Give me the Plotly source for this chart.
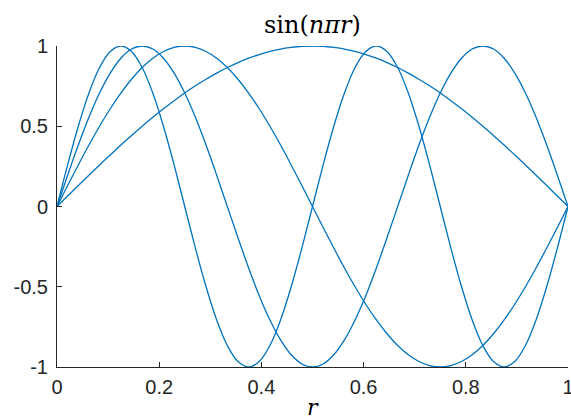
import plotly.graph_objects as go

r_values = [0, .0208, .0417, .0625, .0833, .1042, .125, .1458, .1667, .1875, .2083, .2292,
            .25, .2708, .2917, .3125, .3333, .3542, .375, .3958, .4167, .4375, .4583, .4792,
            .5, .5208, .5417, .5625, .5833, .6042, .625, .6458, .6667, .6875, .7083, .7292,
            .75, .7708, .7917, .8125, .8333, .8542, .875, .8958, .9167, .9375, .9583, .9792, 1]

n1_values = [0, .065, .131, .195, .259, .321, .383, .442, .5, .556, .609, .659,
             .707, .752, .793, .831, .866, .897, .924, .947, .966, .981, .991, .998,
             1, .998, .991, .981, .966, .947, .924, .897, .866, .831, .793, .752,
             .707, .659, .609, .556, .5, .442, .383, .321, .259, .195, .131, .065, 0]
n2_values = [0, .131, .259, .383, .5, .609, .707, .793, .866, .924, .966, .991,
             1, .991, .966, .924, .866, .793, .707, .609, .5, .383, .259, .131,
             0, -.131, -.259, -.383, -.5, -.609, -.707, -.793, -.866, -.924, -.966, -.991,
             -1, -.991, -.966, -.924, -.866, -.793, -.707, -.609, -.5, -.383, -.259, -.131, 0]
n3_values = [0, .195, .383, .556, .707, .831, .924, .981, 1, .981, .924, .831,
             .707, .556, .383, .195, 0, -.195, -.383, -.556, -.707, -.831, -.924, -.981,
             -1, -.981, -.924, -.831, -.707, -.556, -.383, -.195, 0, .195, .383, .556,
             .707, .831, .924, .981, 1, .981, .924, .831, .707, .556, .383, .195, 0]
n4_values = [0, .259, .5, .707, .866, .966, 1, .966, .866, .707, .5, .259,
             0, -.259, -.5, -.707, -.866, -.966, -1, -.966, -.866, -.707, -.5, -.259,
             0, .259, .5, .707, .866, .966, 1, .966, .866, .707, .5, .259,
             0, -.259, -.5, -.707, -.866, -.966, -1, -.966, -.866, -.707, -.5, -.259, 0]

x_ticks = [0, 0.2, 0.4, 0.6, 0.8, 1]
x_tick_labels = ["0", "0.2", "0.4", "0.6", "0.8", "1"]
y_ticks = [-1, -0.5, 0, 0.5, 1]
y_tick_labels = ["-1", "-0.5", "0", "0.5", "1"]

line_color = "#0072BD"
fig = go.Figure()
for ys in [n1_values, n2_values, n3_values, n4_values]:
    fig.add_trace(go.Scatter(x=r_values, y=ys, mode="lines",
                             line=dict(color=line_color, width=1.3, shape="spline"),
                             showlegend=False, hoverinfo="skip"))

axis_font = dict(family="Liberation Sans, Arial, sans-serif", size=20, color="#262626")
fig.update_layout(
    width=571, height=420,
    margin=dict(l=57, r=3, t=46, b=53, autoexpand=False),
    paper_bgcolor="white", plot_bgcolor="white",
    xaxis=dict(range=[0, 1], tickvals=x_ticks, ticktext=x_tick_labels,
               ticks="inside", ticklen=5, tickwidth=1, tickcolor="#262626",
               showline=True, linecolor="#262626", linewidth=1,
               showgrid=False, zeroline=False, tickfont=axis_font,
               ticklabelstandoff=2, ticklabeloverflow="allow", automargin=False),
    yaxis=dict(range=[-1, 1], tickvals=y_ticks, ticktext=y_tick_labels,
               ticks="inside", ticklen=5, tickwidth=1, tickcolor="#262626",
               showline=True, linecolor="#262626", linewidth=1,
               showgrid=False, zeroline=False, tickfont=axis_font,
               ticklabelstandoff=4, ticklabeloverflow="allow", automargin=False),
    annotations=[
        dict(text="sin(<i>nπr</i>)", xref="paper", yref="paper", x=0.5, y=1,
             yshift=21, xanchor="center", yanchor="middle", showarrow=False,
             font=dict(family="DejaVu Serif, serif", size=24, color="black")),
        dict(text="<i>r</i>", xref="paper", yref="paper", x=0.5, y=0,
             yshift=-40, xanchor="center", yanchor="middle", showarrow=False,
             font=dict(family="DejaVu Serif, serif", size=22, color="black")),
    ],
)

fig.write_html("out.html")
